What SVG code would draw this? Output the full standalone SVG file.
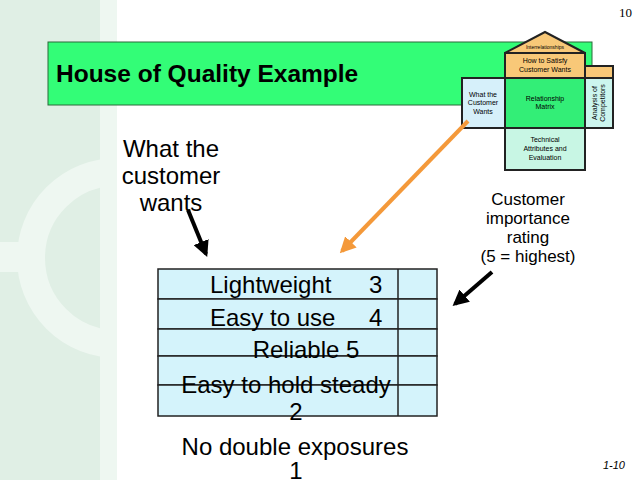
<svg xmlns="http://www.w3.org/2000/svg" width="640" height="480" viewBox="0 0 640 480">
<defs>
<style>
.t{font-family:"Liberation Sans",Arial,sans-serif;fill:#000}
.big{font-size:24px}
.mid{font-size:17px}
.sm{font-size:7px}
.box{stroke:#222;stroke-width:2}
.row{stroke:#222;stroke-width:1.5;fill:#d4f3fb}
</style>
<clipPath id="leftpanel"><rect x="0" y="0" width="100" height="480"/></clipPath>
<marker id="ah" markerWidth="4" markerHeight="4" refX="3.2" refY="2" orient="auto" markerUnits="strokeWidth"><path d="M0,0 L4,2 L0,4 Z" fill="#000"/></marker>
<marker id="ao" markerWidth="4" markerHeight="4" refX="3.2" refY="2" orient="auto" markerUnits="strokeWidth"><path d="M0,0 L4,2 L0,4 Z" fill="#f4993a"/></marker>
</defs>
<rect width="640" height="480" fill="#fff"/>
<g id="background">
<rect x="0" y="0" width="100" height="480" fill="#e0efe5"/>
<rect x="100" y="0" width="17" height="480" fill="#eef7f1"/>
<g clip-path="url(#leftpanel)">
<circle cx="117" cy="258" r="86" fill="none" stroke="#eef7f1" stroke-width="28"/>
<rect x="0" y="242" width="20" height="30" fill="#eef7f1"/>
</g>
</g>
<g id="title">
<rect x="48" y="42" width="544" height="63" fill="#33fd77" stroke="#2a6a3a" stroke-width="1"/>
<text class="t" x="56" y="82" font-size="24.5" font-weight="bold">House of Quality Example</text>
</g>
<text x="632" y="17" text-anchor="end" font-family="Liberation Serif,serif" font-size="13">10</text>
<g id="house">
<polygon points="505,53 545,32 585,53" fill="#f8c878" class="box"/>
<rect x="585" y="66" width="28" height="12" fill="#f8c878" class="box"/>
<rect x="505" y="53" width="80" height="25" fill="#f8c878" class="box"/>
<rect x="462" y="78" width="43" height="50" fill="#d6f0fa" class="box"/>
<rect x="505" y="78" width="80" height="50" fill="#33ee77" class="box"/>
<rect x="585" y="78" width="28" height="50" fill="#ccf5ee" class="box"/>
<rect x="505" y="128" width="80" height="42" fill="#c8f6e4" class="box"/>
<text class="t" x="545" y="49" font-size="5" text-anchor="middle">Interrelationships</text>
<text class="t sm" x="545" y="63" text-anchor="middle">How to Satisfy</text>
<text class="t sm" x="545" y="72" text-anchor="middle">Customer Wants</text>
<text class="t sm" x="483" y="97" text-anchor="middle">What the</text>
<text class="t sm" x="483" y="105" text-anchor="middle">Customer</text>
<text class="t sm" x="483" y="114" text-anchor="middle">Wants</text>
<text class="t sm" x="545" y="101" text-anchor="middle">Relationship</text>
<text class="t sm" x="545" y="109" text-anchor="middle">Matrix</text>
<text class="t sm" transform="translate(597,103) rotate(-90)" text-anchor="middle">Analysis of</text>
<text class="t sm" transform="translate(605,103) rotate(-90)" text-anchor="middle">Competitors</text>
<text class="t sm" x="545" y="142" text-anchor="middle">Technical</text>
<text class="t sm" x="545" y="151" text-anchor="middle">Attributes and</text>
<text class="t sm" x="545" y="160" text-anchor="middle">Evaluation</text>
</g>
<g id="table">
<rect x="158" y="269" width="279" height="30" class="row"/>
<rect x="158" y="299" width="279" height="30" class="row"/>
<rect x="158" y="329" width="279" height="27" class="row"/>
<rect x="158" y="356" width="279" height="29" class="row"/>
<rect x="158" y="385" width="279" height="31" class="row"/>
<line x1="398" y1="269" x2="398" y2="416" stroke="#222" stroke-width="1.5"/>
</g>
<g id="labels">
<text class="t big" x="210" y="293">Lightweight</text>
<text class="t big" x="369" y="293">3</text>
<text class="t big" x="210" y="326">Easy to use</text>
<text class="t big" x="369" y="326">4</text>
<text class="t big" x="306" y="358" text-anchor="middle">Reliable 5</text>
<text class="t big" x="286" y="393" text-anchor="middle">Easy to hold steady</text>
<text class="t big" x="296" y="420" text-anchor="middle">2</text>
<text class="t big" x="295" y="455" text-anchor="middle">No double exposures</text>
<text class="t big" x="296" y="479" text-anchor="middle">1</text>
<text class="t big" x="171" y="157" text-anchor="middle">What the</text>
<text class="t big" x="171" y="184" text-anchor="middle">customer</text>
<text class="t big" x="171" y="211" text-anchor="middle">wants</text>
<text class="t mid" x="528" y="205" text-anchor="middle">Customer</text>
<text class="t mid" x="528" y="224" text-anchor="middle">importance</text>
<text class="t mid" x="528" y="243" text-anchor="middle">rating</text>
<text class="t mid" x="528" y="262" text-anchor="middle">(5 = highest)</text>
<text x="625" y="469" text-anchor="end" font-family="Liberation Sans,sans-serif" font-style="italic" font-size="11">1-10</text>
</g>
<g id="connectors">
<line x1="188" y1="210" x2="206" y2="254" stroke="#000" stroke-width="4" marker-end="url(#ah)"/>
<line x1="492" y1="272" x2="455" y2="304" stroke="#000" stroke-width="4" marker-end="url(#ah)"/>
<line x1="468" y1="121" x2="342" y2="251" stroke="#f4993a" stroke-width="4" marker-end="url(#ao)"/>
</g>
</svg>
